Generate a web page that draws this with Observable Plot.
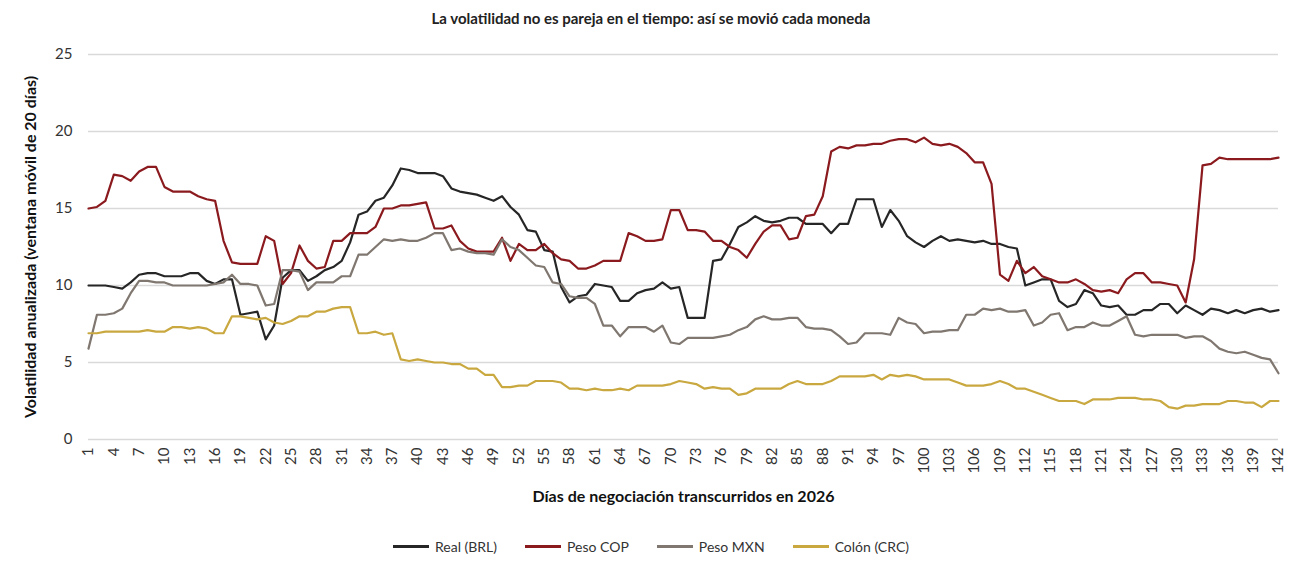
<!DOCTYPE html>
<html><head><meta charset="utf-8">
<script src="https://cdn.jsdelivr.net/npm/d3@7"></script>
<script src="https://cdn.jsdelivr.net/npm/@observablehq/plot@0.6"></script>
<style>
body{margin:0;background:#fff;font-family:Lato,"Open Sans",sans-serif;}
#title{height:32px;line-height:36px;text-align:center;font-size:15px;font-weight:bold;color:#222;}
#legend{display:flex;justify-content:center;gap:28px;font-size:14px;color:#333;margin-top:6px;}
#legend span{display:inline-flex;align-items:center;gap:6px;}
#legend i{display:inline-block;width:36px;height:3px;}
</style></head><body>
<div id="title">La volatilidad no es pareja en el tiempo: así se movió cada moneda</div>
<div id="chart"></div>
<div id="legend"></div>
<script>
const seriesNames = ["Real (BRL)", "Peso COP", "Peso MXN", "Colón (CRC)"];
const colors = ["#262626", "#8b1a1e", "#7f7770", "#c9a840"];
const brl = [10.0,10.0,10.0,9.9,9.8,10.2,10.7,10.8,10.8,10.6,
10.6,10.6,10.8,10.8,10.3,10.1,10.4,10.4,8.1,8.2,
8.3,6.5,7.4,10.5,11.0,11.0,10.3,10.6,11.0,11.2,
11.6,12.8,14.6,14.8,15.5,15.7,16.5,17.6,17.5,17.3,
17.3,17.3,17.1,16.3,16.1,16.0,15.9,15.7,15.5,15.8,
15.1,14.6,13.6,13.5,12.3,12.2,9.9,8.9,9.3,9.4,
10.1,10.0,9.9,9.0,9.0,9.5,9.7,9.8,10.2,9.8,
9.9,7.9,7.9,7.9,11.6,11.7,12.7,13.8,14.1,14.5,
14.2,14.1,14.2,14.4,14.4,14.0,14.0,14.0,13.4,14.0,
14.0,15.6,15.6,15.6,13.8,14.9,14.2,13.2,12.8,12.5,
12.9,13.2,12.9,13.0,12.9,12.8,12.9,12.7,12.7,12.5,
12.4,10.0,10.2,10.4,10.4,9.0,8.6,8.8,9.7,9.5,
8.7,8.6,8.7,8.1,8.1,8.4,8.4,8.8,8.8,8.2,
8.7,8.4,8.1,8.5,8.4,8.2,8.4,8.2,8.4,8.5,
8.3,8.4];
const cop = [15.0,15.1,15.5,17.2,17.1,16.8,17.4,17.7,17.7,16.4,
16.1,16.1,16.1,15.8,15.6,15.5,12.9,11.5,11.4,11.4,
11.4,13.2,12.9,10.1,10.8,12.6,11.6,11.1,11.2,12.9,
12.9,13.4,13.4,13.4,13.8,15.0,15.0,15.2,15.2,15.3,
15.4,13.7,13.7,13.9,12.9,12.4,12.2,12.2,12.2,13.1,
11.6,12.7,12.3,12.3,12.7,12.1,11.7,11.6,11.1,11.1,
11.3,11.6,11.6,11.6,13.4,13.2,12.9,12.9,13.0,14.9,
14.9,13.6,13.6,13.5,12.9,12.9,12.5,12.3,11.8,12.7,
13.5,13.9,13.9,13.0,13.1,14.5,14.6,15.8,18.7,19.0,
18.9,19.1,19.1,19.2,19.2,19.4,19.5,19.5,19.3,19.6,
19.2,19.1,19.2,19.0,18.6,18.0,18.0,16.6,10.7,10.3,
11.6,10.8,11.2,10.6,10.4,10.2,10.2,10.4,10.1,9.7,
9.6,9.7,9.5,10.4,10.8,10.8,10.2,10.2,10.1,10.0,
8.9,11.7,17.8,17.9,18.3,18.2,18.2,18.2,18.2,18.2,
18.2,18.3];
const mxn = [5.9,8.1,8.1,8.2,8.5,9.5,10.3,10.3,10.2,10.2,
10.0,10.0,10.0,10.0,10.0,10.1,10.2,10.7,10.1,10.1,
10.0,8.7,8.8,11.0,11.0,10.9,9.7,10.2,10.2,10.2,
10.6,10.6,12.0,12.0,12.5,13.0,12.9,13.0,12.9,12.9,
13.1,13.4,13.4,12.3,12.4,12.2,12.1,12.1,12.0,13.0,
12.5,12.3,11.8,11.3,11.2,10.2,10.1,9.3,9.2,9.2,
8.8,7.4,7.4,6.7,7.3,7.3,7.3,7.0,7.4,6.3,
6.2,6.6,6.6,6.6,6.6,6.7,6.8,7.1,7.3,7.8,
8.0,7.8,7.8,7.9,7.9,7.3,7.2,7.2,7.1,6.7,
6.2,6.3,6.9,6.9,6.9,6.8,7.9,7.6,7.5,6.9,
7.0,7.0,7.1,7.1,8.1,8.1,8.5,8.4,8.5,8.3,
8.3,8.4,7.4,7.6,8.1,8.2,7.1,7.3,7.3,7.6,
7.4,7.4,7.7,8.0,6.8,6.7,6.8,6.8,6.8,6.8,
6.6,6.7,6.7,6.4,5.9,5.7,5.6,5.7,5.5,5.3,
5.2,4.3];
const crc = [6.9,6.9,7.0,7.0,7.0,7.0,7.0,7.1,7.0,7.0,
7.3,7.3,7.2,7.3,7.2,6.9,6.9,8.0,8.0,7.9,
7.8,7.9,7.6,7.5,7.7,8.0,8.0,8.3,8.3,8.5,
8.6,8.6,6.9,6.9,7.0,6.8,6.9,5.2,5.1,5.2,
5.1,5.0,5.0,4.9,4.9,4.6,4.6,4.2,4.2,3.4,
3.4,3.5,3.5,3.8,3.8,3.8,3.7,3.3,3.3,3.2,
3.3,3.2,3.2,3.3,3.2,3.5,3.5,3.5,3.5,3.6,
3.8,3.7,3.6,3.3,3.4,3.3,3.3,2.9,3.0,3.3,
3.3,3.3,3.3,3.6,3.8,3.6,3.6,3.6,3.8,4.1,
4.1,4.1,4.1,4.2,3.9,4.2,4.1,4.2,4.1,3.9,
3.9,3.9,3.9,3.7,3.5,3.5,3.5,3.6,3.8,3.6,
3.3,3.3,3.1,2.9,2.7,2.5,2.5,2.5,2.3,2.6,
2.6,2.6,2.7,2.7,2.7,2.6,2.6,2.5,2.1,2.0,
2.2,2.2,2.3,2.3,2.3,2.5,2.5,2.4,2.4,2.1,
2.5,2.5];
const yTicks = [0,5,10,15,20,25];
const xTicks = d3.range(1,143,3);

const all = [brl,cop,mxn,crc];
const data = [];
all.forEach((arr,si)=>arr.forEach((v,i)=>data.push({day:i+1,value:v,series:seriesNames[si]})));

const chart = Plot.plot({
  width:1302, height:500,
  marginLeft:88, marginRight:24, marginTop:22, marginBottom:93,
  style:{fontFamily:"Lato, 'Open Sans', sans-serif", fontSize:"15px", color:"#333"},
  x:{domain:[1,142], ticks:xTicks, tickSize:0, tickRotate:-90, tickPadding:8,
     label:"Días de negociación transcurridos en 2026", labelAnchor:"center", labelArrow:"none", labelOffset:62},
  y:{domain:[0,25], ticks:yTicks, tickSize:0, tickPadding:16, grid:false,
     label:"Volatilidad anualizada (ventana móvil de 20 días)", labelAnchor:"center", labelArrow:"none", labelOffset:64},
  color:{domain:seriesNames, range:colors},
  marks:[
    Plot.gridY(yTicks.slice(1), {stroke:"#d9d9d9", strokeOpacity:1, strokeWidth:1.5}),
    Plot.ruleY([0], {stroke:"#d9d9d9", strokeWidth:1.5}),
    Plot.line(data, {x:"day", y:"value", z:"series", stroke:"series", strokeWidth:2.2})
  ]
});
d3.select(chart).selectAll("g[aria-label='x-axis label'] text, g[aria-label='y-axis label'] text")
  .style("font-weight","bold").style("font-size","16px").attr("fill","#111");
document.getElementById("chart").appendChild(chart);
const lg = document.getElementById("legend");
seriesNames.forEach((n,i)=>{const s=document.createElement("span");s.innerHTML=`<i style="background:${colors[i]}"></i>${n}`;lg.appendChild(s);});
</script></body></html>
